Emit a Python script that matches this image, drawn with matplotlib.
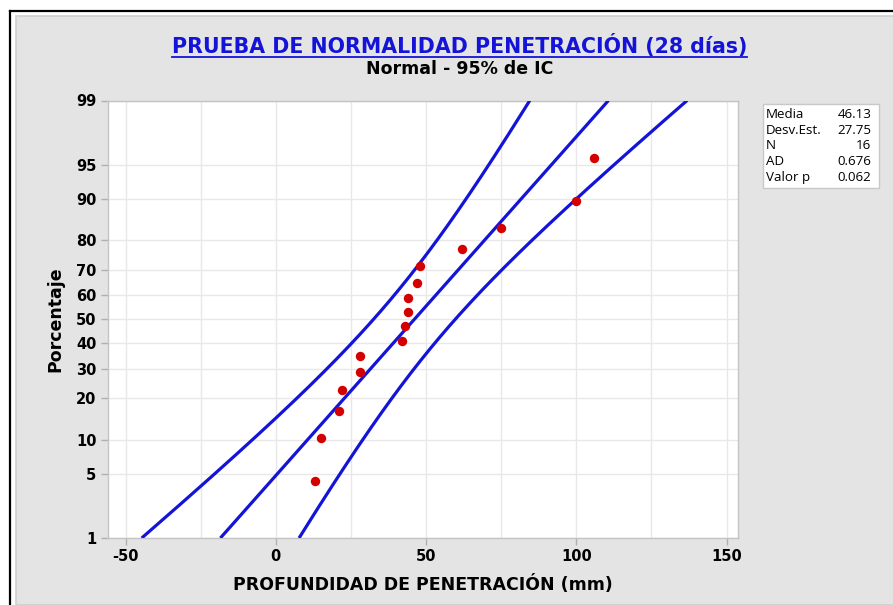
import numpy as np
import matplotlib
matplotlib.use("Agg")
import matplotlib.pyplot as plt
from matplotlib.lines import Line2D
from matplotlib.patches import Rectangle
from statistics import NormalDist

plt.rcParams["axes.unicode_minus"] = False

# ---- data ----
penetracion = [13, 15, 21, 22, 28, 28, 42, 43, 44, 44, 47, 48, 62, 75, 100, 106]
percentil = [4.3, 10.4, 16.5, 22.6, 28.7, 34.8, 40.9, 47.0, 53.0, 59.1,
             65.2, 71.3, 77.4, 83.5, 89.6, 95.7]
media = 46.13
desv_est = 27.75
n_obs = 16
ad_stat = 0.676
valor_p = 0.062
y_ticks = [1, 5, 10, 20, 30, 40, 50, 60, 70, 80, 90, 95, 99]
x_ticks = [-50, 0, 50, 100, 150]
x_grid = [-50, -25, 0, 25, 50, 75, 100, 125, 150]

nd = NormalDist()


def fwd(p):
    p = np.asarray(p, dtype=float)
    q = np.clip(p / 100.0, 1e-12, 1 - 1e-12)
    if q.size == 0:
        return q
    return np.vectorize(nd.inv_cdf, otypes=[float])(q)


def inv(z):
    z = np.asarray(z, dtype=float)
    if z.size == 0:
        return z
    return np.vectorize(nd.cdf, otypes=[float])(z) * 100.0


W, H = 893, 605
fig = plt.figure(figsize=(W / 100, H / 100), dpi=100)
fig.patch.set_facecolor("white")

# outer frame: grey panel + black border lines
fig.add_artist(Rectangle((16 / W, 0), 1, 1 - 16 / H, transform=fig.transFigure,
                         facecolor="#e4e4e4", edgecolor="#cfcfcf", lw=1.2, zorder=0))
fig.add_artist(Line2D([9.5 / W, 9.5 / W], [0, 1 - 10.5 / H], transform=fig.transFigure,
                      color="black", lw=1.6))
fig.add_artist(Line2D([9.5 / W, 1], [1 - 10.5 / H, 1 - 10.5 / H], transform=fig.transFigure,
                      color="black", lw=1.6))

ax = fig.add_axes([107.5 / W, 1 - 538 / H, (738 - 107.5) / W, (538 - 100.5) / H])
ax.set_facecolor("white")
ax.set_yscale("function", functions=(fwd, inv))
ax.set_xlim(-56, 153.8)
ax.set_ylim(1, 99)

# confidence band and fitted line
pp = np.linspace(1, 99, 400)
zz = fwd(pp)
fit = media + zz * desv_est
se = desv_est * np.sqrt(1.0 / n_obs + zz ** 2 / (2.0 * n_obs))
blue = "#1414d8"
ax.plot(fit, pp, color=blue, lw=2.3, zorder=3, solid_capstyle="butt")
ax.plot(fit - 1.96 * se, pp, color=blue, lw=2.3, zorder=3, solid_capstyle="butt")
ax.plot(fit + 1.96 * se, pp, color=blue, lw=2.3, zorder=3, solid_capstyle="butt")

ax.scatter(penetracion, percentil, s=46, color="#d40000", zorder=4, linewidths=0)

ax.set_yticks(y_ticks)
ax.set_yticklabels([str(t) for t in y_ticks])
ax.set_xticks(x_ticks)
ax.set_xticklabels([str(t) for t in x_ticks])
ax.set_xticks(x_grid, minor=True)
ax.yaxis.set_minor_locator(matplotlib.ticker.NullLocator())
ax.grid(True, which="major", axis="y", color="#e8e8e8", lw=1.0)
ax.grid(True, which="both", axis="x", color="#e8e8e8", lw=1.0)
ax.set_axisbelow(True)
ax.tick_params(axis="both", which="major", length=5, color="#b0b0b0", width=1,
               labelsize=10.5, pad=3)
ax.tick_params(axis="x", which="minor", length=0)
for lab in ax.get_xticklabels() + ax.get_yticklabels():
    lab.set_fontweight("bold")
for s in ax.spines.values():
    s.set_color("#c4c4c4")
    s.set_linewidth(1.0)

ax.set_xlabel("PROFUNDIDAD DE PENETRACIÓN (mm)", fontsize=12.5, fontweight="bold", labelpad=8)
ax.set_ylabel("Porcentaje", fontsize=12.5, fontweight="bold", labelpad=8)

title = fig.text(459.5 / W, 1 - 46 / H, "PRUEBA DE NORMALIDAD PENETRACIÓN (28 días)",
                 ha="center", va="center", fontsize=14.8, fontweight="bold", color="#1414d8")
fig.text(459.5 / W, 1 - 68.5 / H, "Normal - 95% de IC", ha="center", va="center",
         fontsize=12.5, fontweight="bold", color="black")

# legend table
bx0, by0, bx1, by1 = 762.5, 104, 878.5, 188.5
fig.add_artist(Rectangle((bx0 / W, 1 - by1 / H), (bx1 - bx0) / W, (by1 - by0) / H,
                         transform=fig.transFigure, facecolor="white",
                         edgecolor="#c8c8c8", lw=1.0, zorder=2))
rows = [("Media", f"{media:.2f}"), ("Desv.Est.", f"{desv_est:.2f}"), ("N", f"{n_obs}"),
        ("AD", f"{ad_stat:.3f}"), ("Valor p", f"{valor_p:.3f}")]
for i, (k, v) in enumerate(rows):
    yy = 1 - (114.5 + i * 15.7) / H
    fig.text(766 / W, yy, k, ha="left", va="center", fontsize=9.6, family="Open Sans", zorder=3)
    fig.text(871.5 / W, yy, v, ha="right", va="center", fontsize=9.6, family="Open Sans", zorder=3)

# underline title
fig.canvas.draw()
bb = title.get_window_extent(fig.canvas.get_renderer())
uy = bb.y0 + 1
fig.add_artist(Line2D([bb.x0 / W, bb.x1 / W], [uy / H, uy / H], transform=fig.transFigure,
                      color="#1414d8", lw=1.3))

fig.savefig("out.png", dpi=100, facecolor=fig.get_facecolor())
